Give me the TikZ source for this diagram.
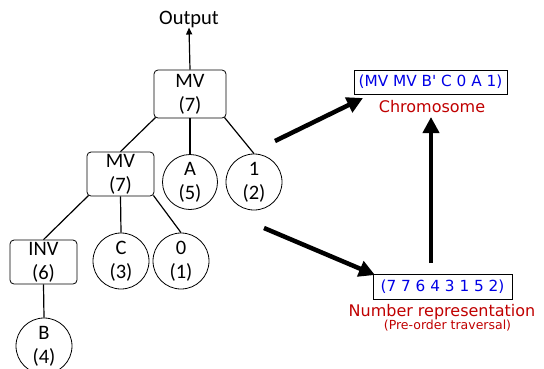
\documentclass[tikz,border=0pt]{standalone}
\usepackage{fontspec}
\setmainfont{Carlito}
\newfontfamily\vfont{DejaVu Sans}
\usetikzlibrary{arrows.meta}
\definecolor{chromblue}{RGB}{0,0,230}
\definecolor{darkred}{RGB}{192,0,0}
\begin{document}
\begin{tikzpicture}[x=1pt,y=-1pt,
  treetext/.style={font=\fontsize{20.5}{24}\selectfont, align=center, inner sep=0pt},
  opbox/.style={treetext, draw, rounded corners=4pt, line width=0.8pt},
  leaf/.style={treetext, draw, circle, line width=0.8pt},
  edge/.style={line width=1.2pt},
  bigarrow/.style={line width=4.5pt, -{Triangle[length=16pt,width=16pt]}},
  seqbox/.style={draw, line width=0.9pt, inner sep=0pt, text=chromblue, font=\vfont\fontsize{15.3}{18}\selectfont},
  redlabel/.style={text=darkred, inner sep=0pt}
]
\useasboundingbox (0,0) rectangle (544,368);
\clip (0,0) rectangle (544,368);

\node[treetext] (out) at (189,19) {Output};
\node[opbox, minimum width=72pt, minimum height=48pt] (mv1) at (190,94) {MV\\(7)};
\node[opbox, minimum width=67pt, minimum height=44pt] (mv2) at (120.5,174) {MV\\(7)};
\node[opbox, minimum width=67pt, minimum height=44pt] (inv) at (43.5,262) {INV\\(6)};
\node[leaf, minimum size=55pt] (a) at (190,182) {A\\(5)};
\node[leaf, minimum size=56pt] (one) at (254,182) {1\\(2)};
\node[leaf, minimum size=56pt] (c) at (121,261) {C\\(3)};
\node[leaf, minimum size=56pt] (zero) at (181,261) {0\\(1)};
\node[leaf, minimum size=56pt] (b) at (44,346) {B\\(4)};

\draw[edge, -{Triangle[length=7pt,width=6pt]}] (mv1.north) -- (out.south);
\draw[edge] (mv1.south west) ++(2,-1) -- (mv2.north);
\draw[edge] (mv1.south) -- (a.north);
\draw[edge] (mv1.south east) ++(-2,-1) -- (one.north);
\draw[edge] (mv2.south west) ++(2,-1) -- (inv.north);
\draw[edge] (mv2.south) -- (c.north);
\draw[edge] (mv2.south east) ++(-1,-1) -- (zero.north);
\draw[edge] (inv.south) -- (b.north);

\node[seqbox, minimum width=153pt, minimum height=24pt] (chrom) at (430.5,82) {(MV MV B' C 0 A 1)};
\node[redlabel, font=\vfont\fontsize{16}{19}\selectfont] (chromlbl) at (432,107) {Chromosome};
\node[seqbox, minimum width=139pt, minimum height=25pt] (num) at (442.5,286.5) {(7 7 6 4 3 1 5 2)};
\node[redlabel, font=\vfont\fontsize{16}{19}\selectfont] (numlbl) at (442,312) {Number representation};
\node[redlabel, font=\vfont\fontsize{12.5}{15}\selectfont] (prelbl) at (447.5,325.5) {(Pre-order traversal)};

\coordinate (s1) at (275,141);
\coordinate (t1) at (363,98);
\coordinate (s2) at (264,228);
\coordinate (t2) at (375,275);
\coordinate (s3) at (431,263);
\coordinate (t3) at (431,117);
\draw[bigarrow] (s1) -- (t1);
\draw[bigarrow] (s2) -- (t2);
\draw[bigarrow] (s3) -- (t3);
\end{tikzpicture}
\end{document}
